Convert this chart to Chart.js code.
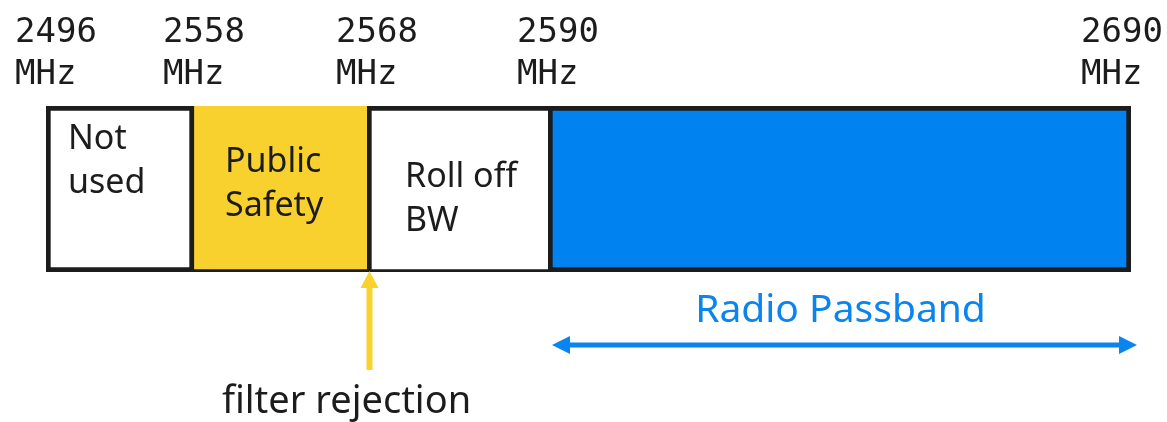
<!DOCTYPE html>
<html>
<head>
<meta charset="utf-8">
<script src="https://cdn.jsdelivr.net/npm/chart.js@4.4.0/dist/chart.umd.min.js"></script>
<style>
  html, body { margin: 0; padding: 0; background: #fff; }
  #wrap { width: 1167px; height: 422px; position: relative; }
</style>
</head>
<body>
<div id="wrap"><canvas id="band"></canvas></div>
<script>
/* Band plan diagram: floating horizontal bars for each sub-band + drawn annotations. */

// Sub-band edges. The diagram is not drawn to frequency scale, so each edge
// also has a drawing position (relative widths).
const edgeFreq = [2496, 2558, 2568, 2590, 2690];
const edgePos  = [0, 148, 321, 502, 1085];
const segNames = [["Not", "used"], ["Public", "Safety"], ["Roll off", "BW"], []];
const segFills = ["#ffffff", "#f8d12e", "#ffffff", "#0082f0"];
const passbandLabel = "Radio Passband";
const rejectionLabel = "filter rejection";

const BLACK = "#1c1c1c";
const BLUE = "#0a84ee";
const YELLOW = "#f9d22e";

// per-segment borders (shared edges are drawn once)
const borders = [
  { top: 5, right: 5, bottom: 5, left: 5 },
  { top: 0, right: 0, bottom: 3, left: 0 },
  { top: 5, right: 0, bottom: 3, left: 5 },
  { top: 5, right: 5, bottom: 5, left: 5 }
];
// text placement inside each box: x offset from box left, first baseline
const textPos = [{ dx: 22, y: 149 }, { dx: 31, y: 172 }, { dx: 38, y: 187 }, { dx: 0, y: 0 }];

const datasets = edgeFreq.slice(0, -1).map((f, i) => ({
  label: `${f}-${edgeFreq[i + 1]} MHz`,
  data: [[edgePos[i], edgePos[i + 1]]],
  backgroundColor: segFills[i],
  borderColor: BLACK,
  borderWidth: borders[i],
  borderSkipped: false,
  grouped: false,
  barPercentage: 1,
  categoryPercentage: 1
}));

function arrowHead(ctx, x, y, dir, len, half) {
  // dir: 1 = pointing right, -1 = left, "up"
  ctx.beginPath();
  if (dir === "up") {
    ctx.moveTo(x, y);
    ctx.lineTo(x - half, y + len);
    ctx.lineTo(x + half, y + len);
  } else {
    ctx.moveTo(x, y);
    ctx.lineTo(x - dir * len, y - half);
    ctx.lineTo(x - dir * len, y + half);
  }
  ctx.closePath();
  ctx.fill();
}

const annotate = {
  id: "annotate",
  afterDatasetsDraw(chart) {
    const { ctx, chartArea: a } = chart;
    const xs = chart.scales.x;
    const W = chart.width;
    ctx.save();

    // frequency labels above the edges
    ctx.fillStyle = BLACK;
    ctx.font = '34px "DejaVu Sans Mono"';
    ctx.textAlign = "left";
    ctx.textBaseline = "alphabetic";
    edgeFreq.forEach((f, i) => {
      const px = xs.getPixelForValue(edgePos[i]) + 10;
      const w = ctx.measureText(String(f)).width;
      let left = px - w / 2;
      if (left + w > W - 4) left = W - 4 - w;
      ctx.fillText(String(f), left, 42);
      ctx.fillText("MHz", left, 84);
    });

    // names inside the boxes
    ctx.font = '34px "Noto Sans"';
    segNames.forEach((lines, i) => {
      const left = xs.getPixelForValue(edgePos[i]) + textPos[i].dx;
      lines.forEach((t, j) => ctx.fillText(t, left, textPos[i].y + j * 44));
    });

    // yellow arrow at the public safety / roll off edge
    const fx = xs.getPixelForValue(edgePos[2]) + 2.5;
    ctx.fillStyle = YELLOW;
    ctx.fillRect(fx - 3, a.bottom + 14, 6, 370 - a.bottom - 14);
    arrowHead(ctx, fx, a.bottom - 1, "up", 17, 9);
    ctx.fillStyle = BLACK;
    ctx.font = '38px "Noto Sans"';
    ctx.textAlign = "center";
    ctx.fillText(rejectionLabel, fx - 23, 413);

    // radio passband double arrow
    const p0 = xs.getPixelForValue(edgePos[3]) + 4;
    const p1 = xs.getPixelForValue(edgePos[4]) + 6;
    const ay = 345;
    ctx.fillStyle = BLUE;
    ctx.fillRect(p0 + 12, ay - 2.5, p1 - p0 - 24, 5);
    arrowHead(ctx, p0, ay, -1, 18, 9);
    arrowHead(ctx, p1, ay, 1, 18, 9);
    ctx.font = '39px "Noto Sans"';
    ctx.fillText(passbandLabel, (p0 + p1) / 2 - 4, 322);

    ctx.restore();
  }
};

new Chart(document.getElementById("band"), {
  type: "bar",
  data: { labels: ["band"], datasets },
  options: {
    indexAxis: "y",
    responsive: true,
    maintainAspectRatio: false,
    animation: false,
    layout: { padding: { left: 46, right: 36, top: 106, bottom: 150 } },
    plugins: { legend: { display: false }, tooltip: { enabled: false } },
    scales: {
      x: { type: "linear", min: edgePos[0], max: edgePos[edgePos.length - 1], display: false },
      y: { display: false }
    }
  },
  plugins: [annotate]
});
</script>
</body>
</html>
